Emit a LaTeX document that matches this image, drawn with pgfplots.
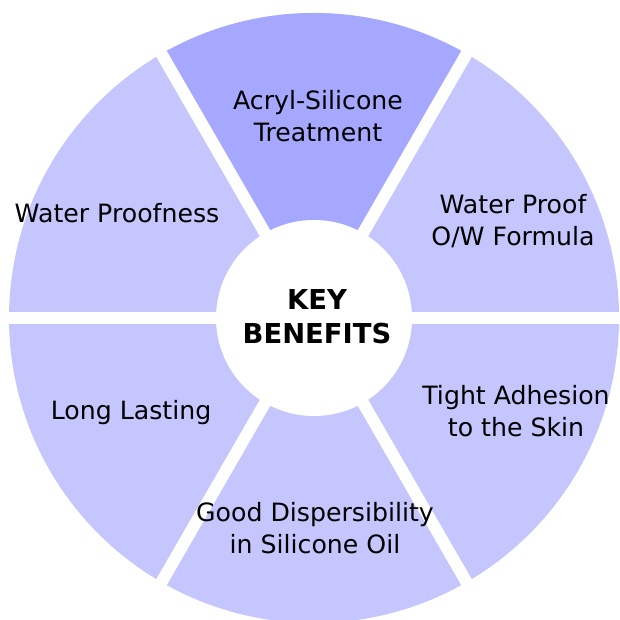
\documentclass[border=0pt]{standalone}
\usepackage{pgfplots}
\pgfplotsset{compat=1.18}
\usepackage{fontspec}
\setmainfont{DejaVu Sans}
\definecolor{segdark}{RGB}{166,168,255}
\definecolor{seglight}{RGB}{198,198,255}
\begin{document}
\begin{tikzpicture}
\begin{axis}[width=620bp,height=620bp,scale only axis,
  xmin=0,xmax=620,ymin=0,ymax=620,hide axis,clip=true]
% wheel of six equal segments, centre (314,302), outer r 305, inner r 98
\fill[seglight] (314,302) circle[radius=305bp];
\fill[segdark] (314,302) -- (466.5,566.1) arc[start angle=60,end angle=120,radius=305bp] -- cycle;
\draw[white,line width=12bp] (314,302) -- (634,302);
\draw[white,line width=12bp] (314,302) -- (474,579.1);
\draw[white,line width=12bp] (314,302) -- (154,579.1);
\draw[white,line width=12bp] (314,302) -- (-6,302);
\draw[white,line width=12bp] (314,302) -- (154,24.9);
\draw[white,line width=12bp] (314,302) -- (474,24.9);
\fill[white] (314,302) circle[radius=98bp];
\tikzset{lab/.style={align=center,font=\fontsize{25.3}{32}\selectfont,text=black,inner sep=0pt}}
\node[lab] at (318,504) {Acryl-Silicone\\Treatment};
\node[lab] at (513,399) {Water Proof\\O/W Formula};
\node[lab] at (117,407) {Water Proofness};
\node[lab] at (131,207) {Long Lasting};
\node[lab] at (516,209) {Tight Adhesion\\to the Skin};
\node[lab] at (315,92) {Good Dispersibility\\in Silicone Oil};
\node[align=center,font=\bfseries\fontsize{27.5}{34}\selectfont,inner sep=0pt] at (317,303) {KEY\\BENEFITS};
\end{axis}
\pgfresetboundingbox
\path (current axis.south west) rectangle (current axis.north east);
\end{tikzpicture}
\end{document}
